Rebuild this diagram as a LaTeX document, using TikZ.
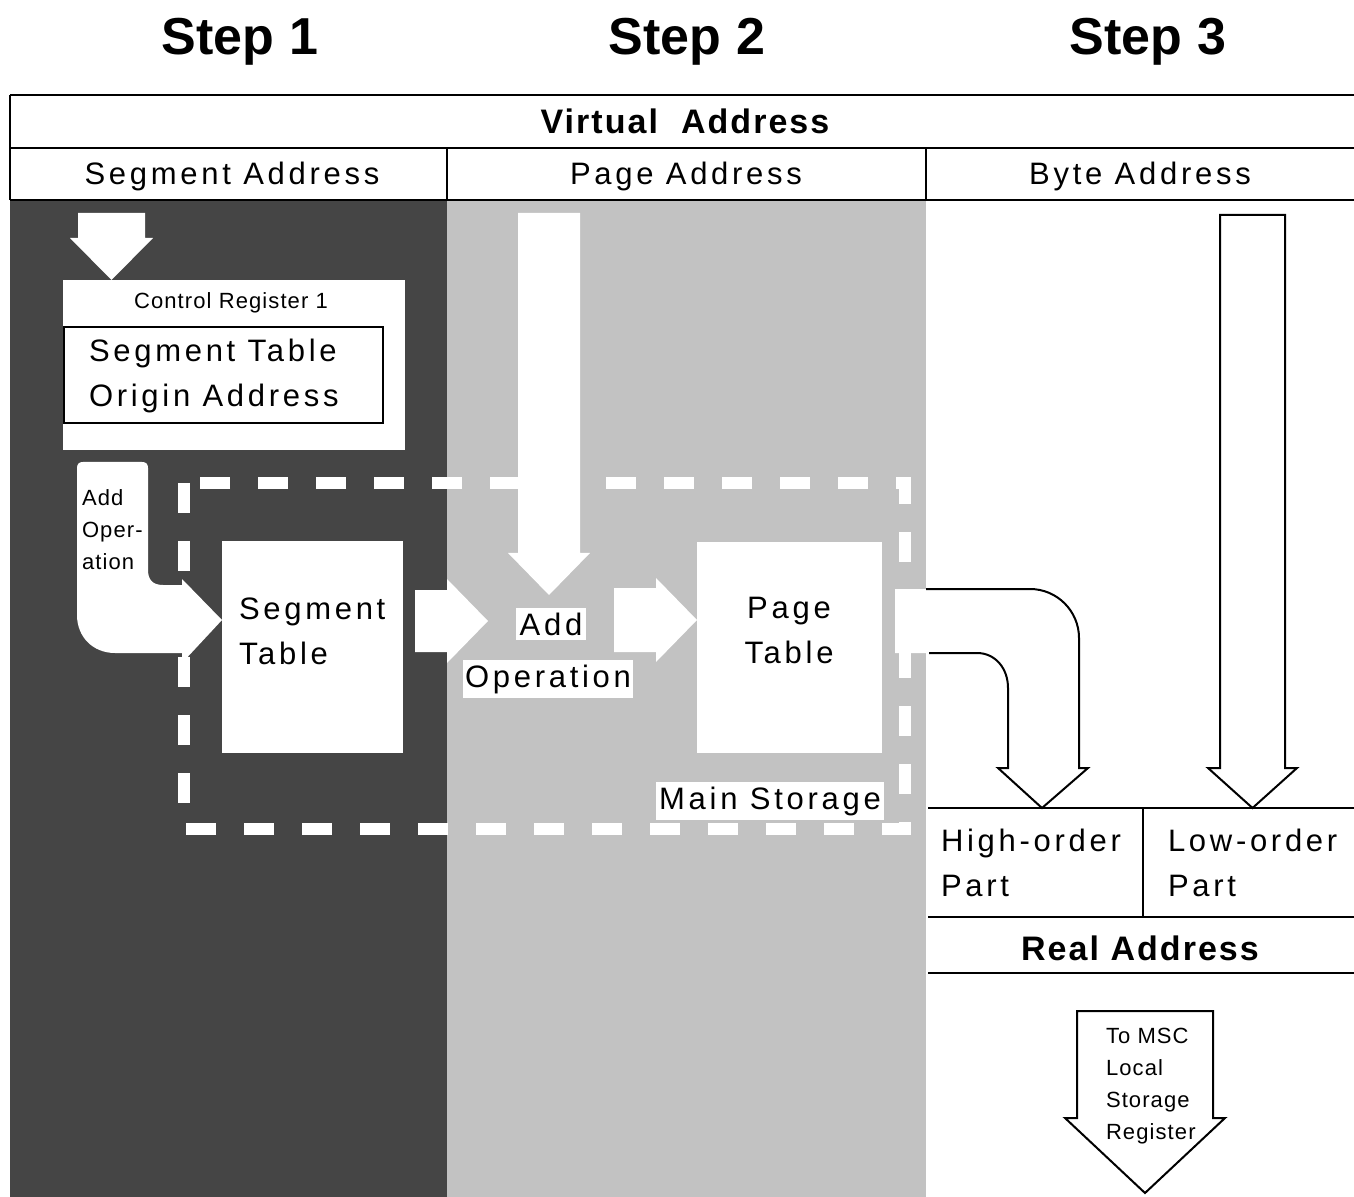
\documentclass[tikz,border=0pt]{standalone}
\usepackage{fontspec}
\setmainfont{Liberation Sans}
\newfontfamily\widesans[LetterSpace=12]{Liberation Sans}
\newfontfamily\smallsans[LetterSpace=5]{Liberation Sans}
\newfontfamily\widebold[LetterSpace=6]{Liberation Sans Bold}
\usetikzlibrary{calc}

\definecolor{screendark}{gray}{0.27}
\definecolor{screenlight}{gray}{0.76}

\begin{document}
\begin{tikzpicture}[x=0.5pt, y=-0.5pt, line width=1pt,
  title/.style={inner sep=0pt, anchor=base, font=\bfseries\fontsize{26}{30}\selectfont},
  heading/.style={inner sep=0pt, anchor=base, font=\widebold\fontsize{17}{20}\selectfont},
  field/.style={inner sep=0pt, anchor=base, font=\widesans\fontsize{15.5}{20}\selectfont},
  big/.style={inner sep=0pt, align=left, anchor=base west, font=\widesans\fontsize{15.5}{22.5}\selectfont},
  small/.style={inner sep=0pt, align=left, anchor=base west, font=\smallsans\fontsize{11}{16}\selectfont},
  tag/.style={fill=white, inner xsep=2pt, inner ysep=2.5pt, anchor=base, font=\widesans\fontsize{15.5}{20}\selectfont},
  hole/.style={fill=white},
  outline/.style={draw=black, fill=white, line join=miter},
  gap/.style={draw=white, line width=6pt, dash pattern=on 15pt off 14pt}]
  % block arrow pointing down: style, left, right, top, neck, overhang, tip
  \newcommand{\vblock}[7]{%
    \path[#1] (#2,#4) -- (#3,#4) -- (#3,#5) -- (#3+#6,#5) -- ({(#2+#3)/2},#7)
      -- (#2-#6,#5) -- (#2,#5) -- cycle;
  }
  % block arrow pointing right: style, left, neck, tip, top, bottom, overhang
  \newcommand{\hblock}[7]{%
    \path[#1] (#2,#5) -- (#3,#5) -- (#3,#5-#7) -- (#4,{(#5+#6)/2})
      -- (#3,#6+#7) -- (#3,#6) -- (#2,#6) -- cycle;
  }
  \useasboundingbox (0,0) rectangle (1354,1197);
  % ---------------------------------------------------------------- screens
  \fill[screendark] (10,200) rectangle (447,1197);
  \fill[screenlight] (447,200) rectangle (926,1197);
  % ---------------------------------------------------------------- virtual address
  \node[title] (step1) at (240,55) {Step 1};
  \node[title] (step2) at (687,55) {Step 2};
  \node[title] (step3) at (1148,55) {Step 3};
  \draw (10,95) -- (1354,95) (10,148) -- (1354,148) (10,200) -- (1354,200)
        (10,95) -- (10,200) (447,148) -- (447,200) (926,148) -- (926,200);
  \node[heading] (virtual) at (685,134) {Virtual\ \ Address};
  \node[field] (segaddr) at (232,185) {Segment Address};
  \node[field] (pageaddr) at (686,185) {Page Address};
  \node[field] (byteaddr) at (1140,185) {Byte Address};
  % main storage frame
  \draw[gap] (184,483) rectangle (905,829);
  % ---------------------------------------------------------------- step 1
  \vblock{hole}{78}{145}{213}{238}{8}{280}
  \fill[hole] (63,280) rectangle (405,450);
  \draw (64,327) rectangle (383,423);
  \node[small, anchor=base] (cr1) at (231,309) {Control Register 1};
  \node[big] (origin) at (88,407) {Segment Table\\Origin Address};
  % bent add arrow
  \fill[hole] (77,468) .. controls (77,464) and (79,462) .. (83,462) -- (142,462)
    .. controls (146,462) and (148,464) .. (148,468) -- (148,570)
    .. controls (148,579) and (152,585) .. (163,585) -- (182,585) -- (182,579)
    -- (222,620) -- (182,663) -- (182,653) -- (115,653)
    .. controls (93,653) and (77,637) .. (77,615) -- cycle;
  \node[small] (addop) at (81,569) {Add\\Oper-\\ation};
  \fill[hole] (222,541) rectangle (403,753);
  \node[big] (segtab) at (238,664) {Segment\\Table};
  % ---------------------------------------------------------------- step 2
  \hblock{hole}{415}{447}{488}{590}{652}{11}
  \vblock{hole}{518}{580}{213}{553}{10}{595}
  \node[tag] (addlbl) at (551,635) {Add};
  \node[tag, inner xsep=1pt] (oplbl) at (548,687) {Operation};
  \hblock{hole}{614}{656}{697}{588}{652}{10}
  \fill[hole] (697,542) rectangle (882,753);
  \node[big, align=center, anchor=base] (pagetab) at (789,663) {Page\\Table};
  \node[tag, inner xsep=1.5pt] (mainst) at (770,809) {Main Storage};
  % ---------------------------------------------------------------- step 3
  \fill[hole] (895,589) -- (1030,589) .. controls (1057,589) and (1079,611) .. (1079,638)
    -- (1079,768) -- (1088,768) -- (1042,808) -- (998,768) -- (1008,768) -- (1008,688)
    .. controls (1008,668) and (995,653) .. (977,653) -- (895,653) -- cycle;
  \draw[line join=miter] (926,589) -- (1030,589) .. controls (1057,589) and (1079,611) .. (1079,638)
    -- (1079,768) -- (1088,768) -- (1042,808) -- (998,768) -- (1008,768) -- (1008,688)
    .. controls (1008,668) and (995,653) .. (977,653) -- (929,653);
  \vblock{outline}{1220}{1285}{215}{768}{12}{808}
  % real address
  \draw (928,808) -- (1354,808) (928,917) -- (1354,917) (928,973) -- (1354,973)
        (1143,808) -- (1143,917);
  \node[big] (high) at (940,896) {High-order\\Part};
  \node[big] (low) at (1167,896) {Low-order\\Part};
  \node[heading] (real) at (1140,960) {Real\ Address};
  \vblock{outline}{1077}{1213}{1011}{1118}{12}{1193}
  \node[small] (tomsc) at (1105,1139) {To MSC\\Local\\Storage\\Register};
\end{tikzpicture}
\end{document}
